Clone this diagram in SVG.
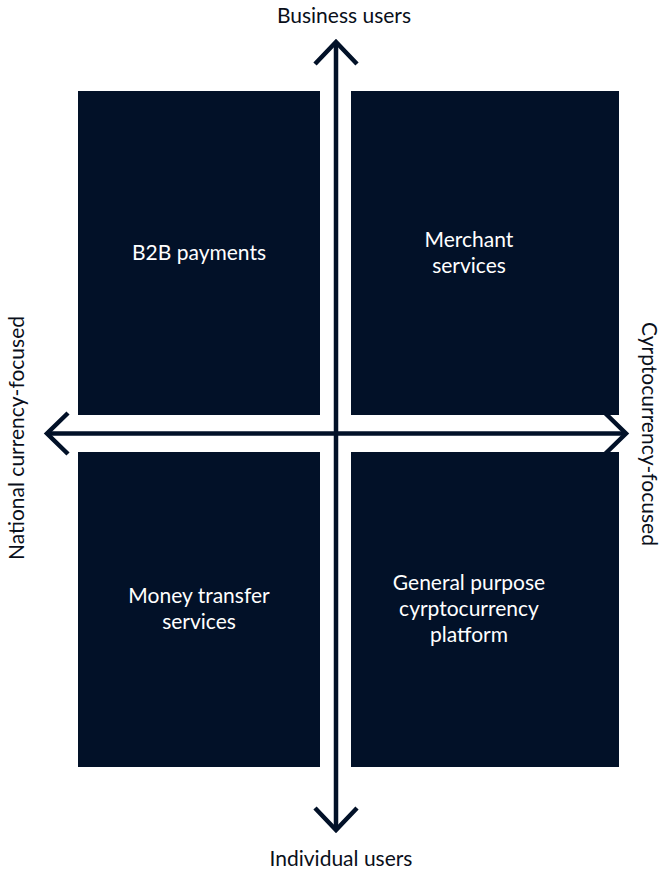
<svg xmlns="http://www.w3.org/2000/svg" width="660" height="872" viewBox="0 0 660 872">
<style>
.box{fill:#021128;}
.lbl{font-family:Lato,"Liberation Sans",sans-serif;font-size:21px;fill:#ffffff;text-anchor:middle;}
.ax{font-family:Lato,"Liberation Sans",sans-serif;font-size:21px;fill:#0a0f1a;text-anchor:middle;}
.line{stroke:#021128;stroke-width:4.5;fill:none;}
.head{stroke:#021128;stroke-width:4.5;fill:none;stroke-linecap:butt;stroke-linejoin:miter;}
</style>
<rect width="660" height="872" fill="#ffffff"/>
<g id="b2b"><rect class="box" x="78" y="91" width="242" height="324"/><text class="lbl" x="199" y="260">B2B payments</text></g>
<g id="merchant"><rect class="box" x="351" y="91" width="268" height="324"/><text class="lbl" x="469" y="247">Merchant</text><text class="lbl" x="469" y="273">services</text></g>
<g id="money"><rect class="box" x="78" y="452" width="242" height="315"/><text class="lbl" x="199" y="603">Money transfer</text><text class="lbl" x="199" y="629">services</text></g>
<g id="general"><rect class="box" x="351" y="452" width="268" height="315"/><text class="lbl" x="469" y="590">General purpose</text><text class="lbl" x="469" y="616">cyrptocurrency</text><text class="lbl" x="469" y="642">platform</text></g>
<g id="connectors">
<line class="line" x1="336" y1="42" x2="336" y2="830"/>
<line class="line" x1="47" y1="433.5" x2="626" y2="433.5"/>
<polyline class="head" points="315,64 336,42 357,64"/>
<polyline class="head" points="315,808 336,830 357,808"/>
<polyline class="head" points="68,413 47,433.5 68,454"/>
<polyline class="head" points="605,413 626,433.5 605,454"/>
</g>
<g id="axis-labels">
<text class="ax" x="344" y="23">Business users</text>
<text class="ax" x="341" y="866">Individual users</text>
<text class="ax" transform="translate(24,438) rotate(-90)">National currency-focused</text>
<text class="ax" transform="translate(642,434) rotate(90)">Cyrptocurrency-focused</text>
</g>
</svg>
